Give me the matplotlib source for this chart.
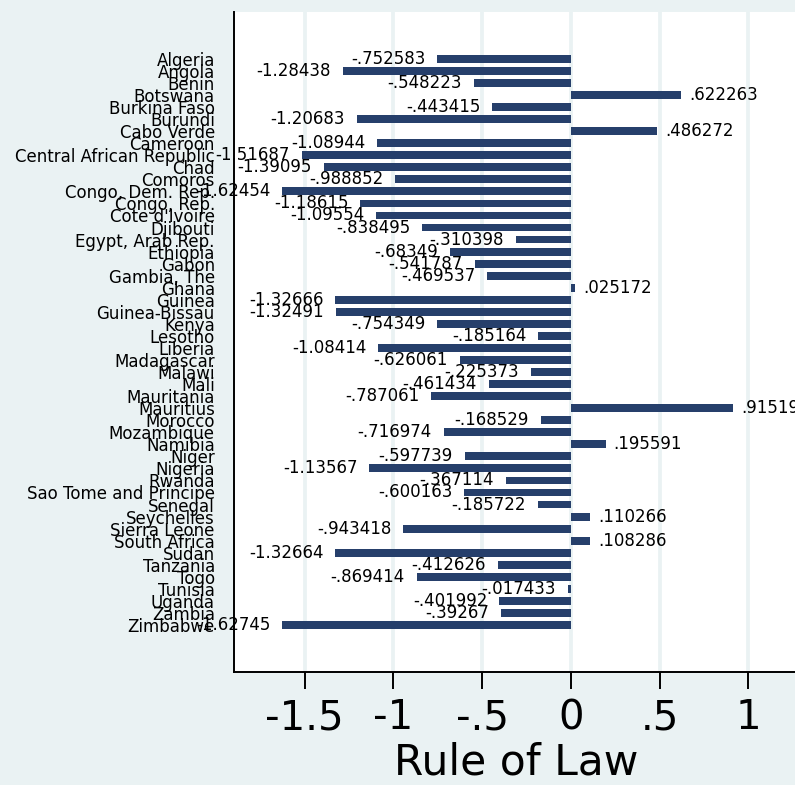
import matplotlib
matplotlib.use("Agg")
import matplotlib.pyplot as plt
import numpy as np

countries = [
    "Algeria", "Angola", "Benin", "Botswana", "Burkina Faso", "Burundi",
    "Cabo Verde", "Cameroon", "Central African Republic", "Chad", "Comoros",
    "Congo, Dem. Rep.", "Congo, Rep.", "Cote d'Ivoire", "Djibouti",
    "Egypt, Arab Rep.", "Ethiopia", "Gabon", "Gambia, The", "Ghana", "Guinea",
    "Guinea-Bissau", "Kenya", "Lesotho", "Liberia", "Madagascar", "Malawi",
    "Mali", "Mauritania", "Mauritius", "Morocco", "Mozambique", "Namibia",
    "Niger", "Nigeria", "Rwanda", "Sao Tome and Principe", "Senegal",
    "Seychelles", "Sierra Leone", "South Africa", "Sudan", "Tanzania", "Togo",
    "Tunisia", "Uganda", "Zambia", "Zimbabwe",
]
rule_of_law = [
    -0.752583, -1.28438, -0.548223, 0.622263, -0.443415, -1.20683,
    0.486272, -1.08944, -1.51687, -1.39095, -0.988852,
    -1.62454, -1.18615, -1.09554, -0.838495,
    -0.310398, -0.68349, -0.541787, -0.469537, 0.025172, -1.32666,
    -1.32491, -0.754349, -0.185164, -1.08414, -0.626061, -0.225373,
    -0.461434, -0.787061, 0.91519, -0.168529, -0.716974, 0.195591,
    -0.597739, -1.13567, -0.367114, -0.600163, -0.185722,
    0.110266, -0.943418, 0.108286, -1.32664, -0.412626, -0.869414,
    -0.017433, -0.401992, -0.39267, -1.62745,
]
xticks = [-1.5, -1, -0.5, 0, 0.5, 1]
xtick_labels = ["-1.5", "-1", "-.5", "0", ".5", "1"]

bg = "#eaf2f3"
navy = "#263f6b"


def stata_fmt(v):
    s = str(v)
    return s.replace("0.", ".", 1) if abs(v) < 1 else s


plt.rcParams["font.family"] = "DejaVu Sans"

fig = plt.figure(figsize=(7.95, 7.85), dpi=100, facecolor=bg)
# plot region runs slightly past the right edge of the picture, as in the source
ax = fig.add_axes([0.2938, 0.144, 0.71, 0.8408])
ax.set_facecolor("white")

y = np.arange(len(countries))
for t in xticks:
    ax.axvline(t, color=bg, lw=2.7, zorder=0)
ax.barh(y, rule_of_law, height=0.65, color=navy, zorder=2)

for yi, v in zip(y, rule_of_law):
    off = -8.5 if v < 0 else 5.8
    ax.annotate(stata_fmt(v), (v, yi), xytext=(off, 0), textcoords="offset points",
                ha="right" if v < 0 else "left", va="center", fontsize=12,
                color="black", zorder=3, annotation_clip=False)

ax.set_xlim(-1.9, 1.28)
ax.set_ylim(50.9, -3.9)
ax.set_yticks(y)
ax.set_yticklabels(countries, fontsize=12)
ax.tick_params(axis="y", length=0, pad=13.5)
ax.set_xticks(xticks)
ax.set_xticklabels(xtick_labels, fontsize=29)
ax.tick_params(axis="x", length=12, width=1.4, pad=7, direction="out")
ax.set_xlabel("Rule of Law", fontsize=30.5, labelpad=2)

for side in ["top", "right"]:
    ax.spines[side].set_visible(False)
for side in ["left", "bottom"]:
    ax.spines[side].set_linewidth(1.4)

fig.savefig("out.png", dpi=100, facecolor=bg)
